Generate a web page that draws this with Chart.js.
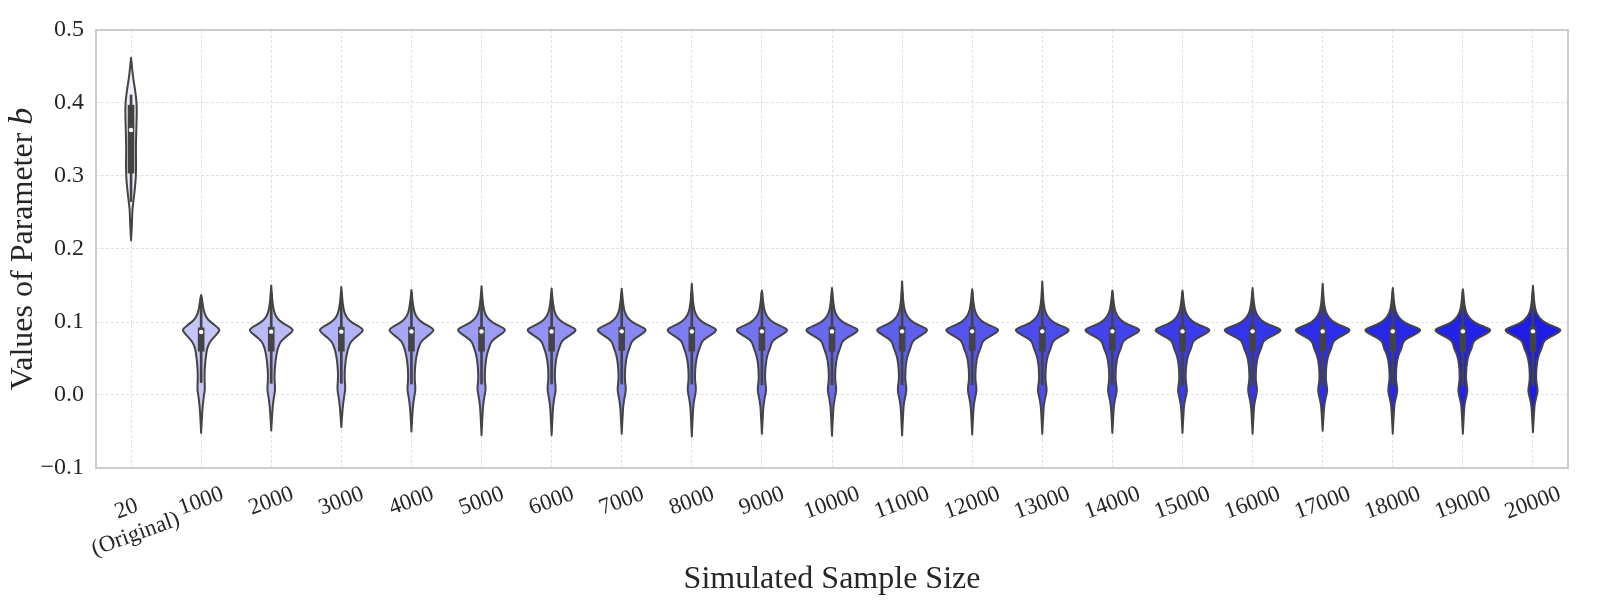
<!DOCTYPE html>
<html>
<head>
<meta charset="utf-8">
<script src="https://cdn.jsdelivr.net/npm/chart.js@4.4.1/dist/chart.umd.min.js"></script>
<style>
  html, body { margin: 0; padding: 0; background: #fff; }
  canvas { display: block; }
</style>
</head>
<body>
<canvas id="violinChart" width="1600" height="600"></canvas>
<script>
// simulated sample sizes (x categories)
var categories = ['20\n(Original)', '1000', '2000', '3000', '4000', '5000', '6000', '7000', '8000', '9000', '10000',
    '11000', '12000', '13000', '14000', '15000', '16000', '17000', '18000', '19000', '20000'];
var yTicks = [-0.1, 0.0, 0.1, 0.2, 0.3, 0.4, 0.5];

// box summary per sample size
var q1 = [0.304, 0.060, 0.060, 0.060, 0.060, 0.060, 0.060, 0.061, 0.060, 0.061, 0.060, 0.060, 0.061, 0.060, 0.061, 0.060, 0.060, 0.061, 0.060, 0.060, 0.060];
var q3 = [0.397, 0.092, 0.093, 0.093, 0.093, 0.093, 0.093, 0.093, 0.093, 0.093, 0.093, 0.094, 0.093, 0.094, 0.093, 0.094, 0.094, 0.094, 0.094, 0.094, 0.094];
var medians = [0.363, 0.0863, 0.0868, 0.0868, 0.087, 0.087, 0.087, 0.0872, 0.087, 0.0872, 0.087, 0.0872, 0.0872, 0.0872, 0.0872, 0.0872, 0.0872, 0.0872, 0.0872, 0.0872, 0.0872];
var whiskerLow = [0.265, 0.017, 0.016, 0.016, 0.015, 0.015, 0.015, 0.015, 0.015, 0.014, 0.014, 0.014, 0.014, 0.014, 0.014, 0.013, 0.013, 0.013, 0.013, 0.013, 0.013];
var whiskerHigh = [0.411, 0.133, 0.140, 0.140, 0.140, 0.140, 0.140, 0.140, 0.141, 0.140, 0.141, 0.141, 0.141, 0.141, 0.140, 0.140, 0.141, 0.141, 0.141, 0.141, 0.141];

// extent of each violin (kde tails)
var lowTail = [0.212, -0.052, -0.0485, -0.044, -0.050, -0.055, -0.055, -0.053, -0.0567, -0.053, -0.0557,
    -0.0553, -0.054, -0.053, -0.052, -0.052, -0.053, -0.049, -0.053, -0.053, -0.051];
var highTail = [0.462, 0.137, 0.150, 0.148, 0.144, 0.149, 0.146, 0.1456, 0.1525, 0.143, 0.1466,
    0.1556, 0.145, 0.1556, 0.1433, 0.143, 0.1466, 0.1525, 0.1466, 0.145, 0.1497];

// kde of the original 20 values
var originalGrid = [0.23, 0.25, 0.26, 0.27, 0.28, 0.29, 0.30, 0.31, 0.32, 0.33, 0.34, 0.35, 0.36, 0.37, 0.38, 0.39, 0.40, 0.41, 0.42, 0.43, 0.44, 0.45];
var originalDensity = [0.8, 1.2, 1.8, 2.8, 3.6, 4.3, 4.8, 5.0, 5.0, 4.9, 4.9, 5.0, 5.2, 5.4, 5.6, 5.7, 5.5, 4.8, 3.8, 2.6, 1.6, 0.9];

// kde of the simulated samples, on a shared grid
var simGrid = [-0.02, -0.01, 0.0, 0.006, 0.012, 0.02, 0.03, 0.04, 0.05, 0.058, 0.064, 0.07, 0.075, 0.08, 0.084, 0.0875, 0.09, 0.093, 0.097, 0.1, 0.105, 0.11, 0.115, 0.12, 0.13];
var density1000 = [1.2, 2.0, 2.8, 3.6, 3.7, 3.4, 3.4, 3.8, 4.5, 5.3, 6.0, 7.8, 10.0, 13.5, 16.0, 18.0, 18.3, 16.0, 12.5, 9.5, 5.8, 4.0, 2.8, 2.0, 1.0];
var density2000 = [1.2, 2.0, 3.0, 3.8, 3.8, 3.3, 3.3, 3.8, 4.6, 5.6, 6.6, 8.3, 10.5, 15.0, 18.5, 21.3, 21.5, 18.5, 13.5, 10.0, 6.0, 4.0, 2.8, 2.0, 1.0];
var density3000 = [1.2, 2.0, 3.0, 3.8, 3.9, 3.4, 3.3, 3.8, 4.6, 5.7, 6.8, 8.5, 10.8, 15.2, 18.8, 21.3, 21.5, 18.6, 13.6, 10.0, 6.0, 4.0, 2.8, 2.0, 1.0];
var density4000 = [1.2, 2.0, 3.1, 3.9, 3.9, 3.3, 3.3, 3.8, 4.6, 5.8, 7.0, 8.6, 10.8, 15.5, 19.2, 21.8, 22.0, 19.0, 13.8, 10.2, 6.2, 4.0, 2.8, 2.0, 1.0];
var density5000 = [1.2, 2.0, 3.1, 4.0, 4.0, 3.3, 3.3, 3.8, 4.6, 5.9, 7.3, 8.8, 11.0, 16.0, 20.2, 23.3, 23.5, 20.0, 14.3, 10.4, 6.3, 4.1, 2.8, 2.0, 1.0];
var density6000 = [1.2, 2.0, 3.2, 4.0, 4.0, 3.3, 3.2, 3.7, 4.6, 6.0, 7.5, 9.0, 11.0, 16.3, 20.6, 23.8, 24.0, 20.3, 14.5, 10.5, 6.4, 4.1, 2.8, 2.0, 1.0];
var density7000 = [1.2, 2.0, 3.3, 4.1, 4.0, 3.2, 3.2, 3.7, 4.6, 6.1, 7.7, 9.1, 11.0, 16.3, 20.6, 23.8, 24.0, 20.3, 14.5, 10.5, 6.4, 4.1, 2.8, 2.0, 1.0];
var density8000 = [1.2, 2.0, 3.3, 4.1, 4.0, 3.2, 3.2, 3.7, 4.7, 6.2, 7.9, 9.2, 11.1, 16.5, 21.0, 24.1, 24.3, 20.5, 14.6, 10.6, 6.5, 4.2, 2.8, 2.0, 1.0];
var density9000 = [1.2, 2.0, 3.4, 4.2, 4.0, 3.2, 3.2, 3.7, 4.7, 6.3, 8.1, 9.3, 11.2, 17.0, 21.8, 25.0, 25.2, 21.0, 14.8, 10.7, 6.6, 4.2, 2.8, 2.0, 1.0];
var density10000 = [1.2, 2.0, 3.4, 4.2, 4.0, 3.2, 3.2, 3.7, 4.7, 6.4, 8.2, 9.4, 11.2, 17.2, 22.2, 25.5, 25.7, 21.3, 14.9, 10.7, 6.6, 4.2, 2.8, 2.0, 1.0];
var density11000 = [1.2, 2.0, 3.5, 4.3, 4.1, 3.2, 3.2, 3.7, 4.7, 6.5, 8.3, 9.5, 11.3, 17.0, 21.6, 24.8, 25.0, 21.0, 14.8, 10.7, 6.6, 4.3, 2.9, 2.0, 1.0];
var density12000 = [1.2, 2.0, 3.5, 4.3, 4.1, 3.2, 3.2, 3.7, 4.7, 6.5, 8.4, 9.6, 11.3, 17.4, 22.4, 25.8, 26.0, 21.5, 15.0, 10.8, 6.7, 4.3, 2.9, 2.0, 1.0];
var density13000 = [1.2, 2.0, 3.6, 4.4, 4.1, 3.2, 3.2, 3.7, 4.8, 6.5, 8.5, 9.6, 11.4, 17.6, 22.8, 26.3, 26.5, 21.8, 15.0, 10.8, 6.8, 4.3, 2.9, 2.0, 1.0];
var density14000 = [1.2, 2.0, 3.6, 4.4, 4.1, 3.2, 3.2, 3.7, 4.8, 6.5, 8.6, 9.7, 11.4, 17.8, 23.2, 26.8, 27.0, 22.0, 15.2, 10.9, 6.8, 4.4, 2.9, 2.0, 1.0];
var density15000 = [1.2, 2.0, 3.7, 4.5, 4.1, 3.2, 3.2, 3.7, 4.8, 6.5, 8.6, 9.7, 11.4, 17.8, 23.2, 26.8, 27.0, 22.0, 15.2, 10.9, 6.8, 4.4, 2.9, 2.0, 1.0];
var density16000 = [1.2, 2.0, 3.7, 4.5, 4.2, 3.2, 3.2, 3.7, 4.8, 6.6, 8.7, 9.8, 11.5, 18.2, 24.0, 27.8, 28.0, 22.6, 15.5, 11.0, 6.9, 4.4, 2.9, 2.0, 1.0];
var density17000 = [1.2, 2.0, 3.8, 4.6, 4.2, 3.2, 3.2, 3.7, 4.8, 6.6, 8.7, 9.8, 11.5, 17.8, 23.2, 26.8, 27.0, 22.0, 15.2, 10.9, 6.9, 4.4, 2.9, 2.0, 1.0];
var density18000 = [1.2, 2.0, 3.8, 4.6, 4.2, 3.2, 3.2, 3.7, 4.8, 6.6, 8.8, 9.8, 11.5, 18.0, 23.6, 27.3, 27.5, 22.3, 15.3, 11.0, 6.9, 4.4, 2.9, 2.0, 1.0];
var density19000 = [1.2, 2.0, 3.8, 4.6, 4.2, 3.2, 3.2, 3.7, 4.8, 6.6, 8.8, 9.8, 11.5, 18.0, 23.6, 27.3, 27.5, 22.3, 15.3, 11.0, 6.9, 4.4, 2.9, 2.0, 1.0];
var density20000 = [1.2, 2.0, 3.9, 4.7, 4.2, 3.2, 3.2, 3.7, 4.8, 6.6, 8.8, 9.9, 11.5, 18.0, 23.6, 27.3, 27.5, 22.3, 15.3, 11.0, 6.9, 4.4, 2.9, 2.0, 1.0];

var simDensities = [density1000, density2000, density3000, density4000, density5000, density6000, density7000,
    density8000, density9000, density10000, density11000, density12000, density13000, density14000,
    density15000, density16000, density17000, density18000, density19000, density20000];

// light-to-blue palette, one colour per violin
var violinColors = ['#ededfc', '#c6c6f8', '#bbbbf7', '#b2b2f6', '#a7a7f5', '#9c9cf4', '#9292f3', '#8787f2',
    '#7d7df1', '#7373f0', '#6969ef', '#5f5fee', '#5555ed', '#4c4cec', '#4343eb', '#3b3bea', '#3434e9',
    '#2d2de9', '#2727e8', '#2222e8', '#1d1de7'];

var SERIF = '"Liberation Serif", "Times New Roman", serif';
var TEXT = '#262626';
var LINE = '#444444';

function violinProfile(i) {
    var grid = i === 0 ? originalGrid : simGrid;
    var dens = i === 0 ? originalDensity : simDensities[i - 1];
    var pts = [{ v: lowTail[i], d: 0 }];
    grid.forEach(function (v, j) {
        if (v > lowTail[i] && v < highTail[i]) pts.push({ v: v, d: dens[j] });
    });
    pts.push({ v: highTail[i], d: 0 });
    return pts;
}

function smoothClosed(ctx, pts) {
    ctx.beginPath();
    ctx.moveTo(pts[0][0], pts[0][1]);
    for (var i = 1; i < pts.length - 1; i++) {
        var mx = (pts[i][0] + pts[i + 1][0]) / 2;
        var my = (pts[i][1] + pts[i + 1][1]) / 2;
        ctx.quadraticCurveTo(pts[i][0], pts[i][1], mx, my);
    }
    ctx.lineTo(pts[pts.length - 1][0], pts[pts.length - 1][1]);
    ctx.closePath();
}

var violinPlugin = {
    id: 'violins',
    beforeDatasetsDraw: function (chart) {
        var ctx = chart.ctx, xs = chart.scales.x, ys = chart.scales.y, area = chart.chartArea;
        ctx.save();
        // frame around the plot
        ctx.strokeStyle = '#cccccc';
        ctx.lineWidth = 2;
        ctx.strokeRect(area.left, area.top, area.right - area.left, area.bottom - area.top);

        var maxDensity = Math.max.apply(null, originalDensity.concat.apply(originalDensity, simDensities));
        var step = xs.getPixelForValue(1) - xs.getPixelForValue(0);
        var k = step * 0.4 / maxDensity;

        categories.forEach(function (c, i) {
            var cx = xs.getPixelForValue(i);
            var prof = violinProfile(i);
            var right = prof.map(function (p) { return [cx + p.d * k, ys.getPixelForValue(p.v)]; });
            var left = prof.slice().reverse().map(function (p) { return [cx - p.d * k, ys.getPixelForValue(p.v)]; });
            smoothClosed(ctx, right.concat(left));
            ctx.fillStyle = violinColors[i];
            ctx.fill();
            ctx.lineWidth = 2;
            ctx.lineJoin = 'round';
            ctx.strokeStyle = LINE;
            ctx.stroke();
        });
        ctx.restore();
    },
    afterDraw: function (chart) {
        var ctx = chart.ctx, xs = chart.scales.x, area = chart.chartArea;
        var ang = 20 * Math.PI / 180;
        ctx.save();
        ctx.fillStyle = TEXT;

        // rotated x tick labels, centred under each category
        ctx.font = '23px ' + SERIF;
        ctx.textAlign = 'center';
        ctx.textBaseline = 'middle';
        var lineGap = 27;
        categories.forEach(function (c, i) {
            var lines = c.split('\n');
            var w = Math.max.apply(null, lines.map(function (l) { return ctx.measureText(l).width; }));
            var h = (lines.length - 1) * lineGap + 20;
            var boxH = w * Math.sin(ang) + h * Math.cos(ang);
            ctx.save();
            ctx.translate(xs.getPixelForValue(i), area.bottom + 16 + boxH / 2);
            ctx.rotate(-ang);
            lines.forEach(function (l, n) {
                ctx.fillText(l, 0, (n - (lines.length - 1) / 2) * lineGap);
            });
            ctx.restore();
        });

        // x axis title
        ctx.font = '32px ' + SERIF;
        ctx.textBaseline = 'alphabetic';
        ctx.fillText('Simulated Sample Size', (area.left + area.right) / 2, 588);

        // y axis title with italic b
        var part1 = 'Values of Parameter ';
        ctx.font = '32px ' + SERIF;
        var w1 = ctx.measureText(part1).width;
        ctx.font = 'italic 34px ' + SERIF;
        var w2 = ctx.measureText('b').width;
        ctx.translate(32, (area.top + area.bottom) / 2);
        ctx.rotate(-Math.PI / 2);
        ctx.textAlign = 'left';
        ctx.font = '32px ' + SERIF;
        ctx.fillText(part1, -(w1 + w2) / 2, 0);
        ctx.font = 'italic 34px ' + SERIF;
        ctx.fillText('b', -(w1 + w2) / 2 + w1, 0);
        ctx.restore();
    }
};

document.addEventListener('DOMContentLoaded', function () {
    var ctx = document.getElementById('violinChart').getContext('2d');
    new Chart(ctx, {
        type: 'bar',
        data: {
            labels: categories,
            datasets: [{
                type: 'line',
                label: 'Median',
                data: medians,
                showLine: false,
                pointRadius: 2.2,
                pointBackgroundColor: '#ffffff',
                pointBorderWidth: 0,
                order: 0
            }, {
                label: 'IQR',
                data: q1.map(function (v, i) { return [v, q3[i]]; }),
                backgroundColor: LINE,
                borderWidth: 0,
                barThickness: 6,
                grouped: false,
                order: 1
            }, {
                label: 'Whiskers',
                data: whiskerLow.map(function (v, i) { return [v, whiskerHigh[i]]; }),
                backgroundColor: LINE,
                borderWidth: 0,
                barThickness: 2,
                grouped: false,
                order: 2
            }]
        },
        options: {
            responsive: false,
            animation: false,
            layout: { padding: { left: 0, right: 32, top: 30, bottom: 0 } },
            plugins: {
                legend: { display: false },
                tooltip: { enabled: false }
            },
            scales: {
                x: {
                    type: 'category',
                    offset: true,
                    grid: { offset: false, color: '#d9d9d9', lineWidth: 0.8, drawTicks: false },
                    border: { display: false, dash: [3, 2] },
                    ticks: { display: false },
                    afterFit: function (scale) { scale.height = 132; }
                },
                y: {
                    min: -0.1,
                    max: 0.5,
                    grid: { color: '#d9d9d9', lineWidth: 0.8, drawTicks: false },
                    border: { display: false, dash: [3, 2] },
                    afterBuildTicks: function (scale) {
                        scale.ticks = yTicks.map(function (v) { return { value: v }; });
                    },
                    ticks: {
                        padding: 12,
                        color: TEXT,
                        font: { family: SERIF, size: 24 },
                        callback: function (v) {
                            return v < 0 ? '\u2212' + Math.abs(v).toFixed(1) : v.toFixed(1);
                        }
                    },
                    afterFit: function (scale) { scale.width = 96; }
                }
            }
        },
        plugins: [violinPlugin]
    });
});
</script>
</body>
</html>
